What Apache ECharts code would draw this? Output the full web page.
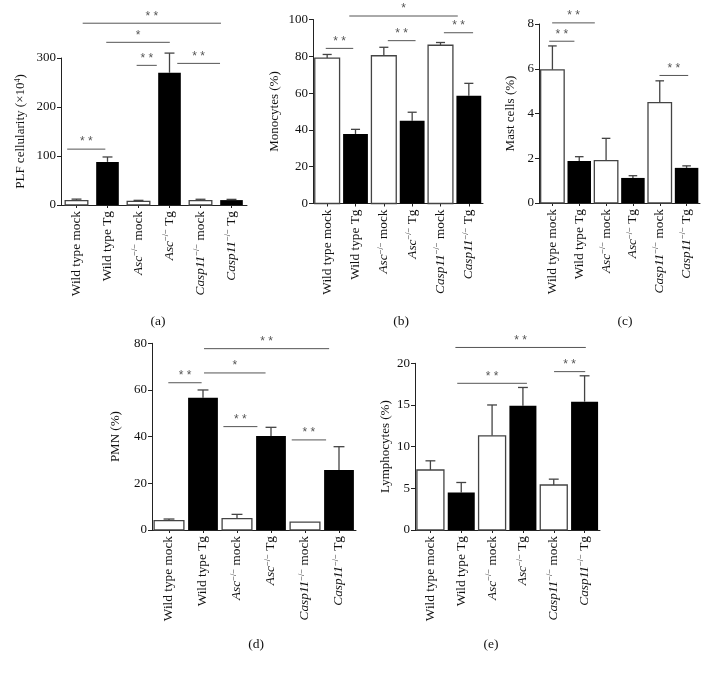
<!DOCTYPE html>
<html><head><meta charset="utf-8">
<script src="https://cdn.jsdelivr.net/npm/echarts@6/dist/echarts.min.js"></script>
<style>html,body{margin:0;padding:0;background:#fff}#c{width:709px;height:674px}</style>
</head><body><div id="c"></div>
<script>
// ---- data ----
const categories = [
  'Wild type mock',
  'Wild type Tg',
  '{i|Asc}{s|−/−} mock',
  '{i|Asc}{s|−/−} Tg',
  '{i|Casp11}{s|−/−} mock',
  '{i|Casp11}{s|−/−} Tg'
];
const barFill = [0, 1, 0, 1, 0, 1]; // 0 = open (mock), 1 = filled (Tg)

const plfMean = [9, 88, 7.5, 270, 9, 10];
const plfSem  = [3, 10, 2, 40, 2.7, 1.5];
const monoMean = [79, 37.8, 80.3, 45, 86, 58.6];
const monoSem  = [2, 2.5, 4.6, 4.6, 1.5, 6.7];
const mastMean = [5.95, 1.88, 1.89, 1.12, 4.49, 1.57];
const mastSem  = [1.07, 0.19, 1.0, 0.1, 0.97, 0.09];
const pmnMean = [4.0, 56.7, 4.9, 40.3, 3.4, 25.7];
const pmnSem  = [0.7, 3.3, 1.8, 3.7, 0, 10];
const lymMean = [7.2, 4.5, 11.3, 14.9, 5.4, 15.4];
const lymSem  = [1.1, 1.2, 3.7, 2.2, 0.7, 3.1];

// significance brackets: [from (category units), to (category units), level, stars]
const plfSig  = [[-0.3, 0.93, 114, '**'], [1.94, 2.59, 285, '**'], [3.25, 4.63, 289, '**'], [0.96, 3.01, 332, '*'], [0.2, 4.66, 371, '**']];
const monoSig = [[-0.05, 0.92, 84.3, '**'], [2.14, 3.12, 88.5, '**'], [4.12, 5.15, 92.8, '**'], [0.78, 4.61, 101.9, '*']];
const mastSig = [[-0.12, 0.82, 7.23, '**'], [-0.01, 1.58, 8.05, '**'], [3.99, 5.06, 5.70, '**']];
const pmnSig  = [[-0.02, 0.96, 63.1, '**'], [1.6, 2.6, 44.3, '**'], [3.61, 4.62, 38.6, '**'], [1.03, 2.84, 67.3, '*'], [1.03, 4.71, 77.7, '**']];
const lymSig  = [[0.87, 3.13, 17.6, '**'], [4.01, 5.02, 19.0, '**'], [0.81, 5.04, 21.9, '**']];

const yNames = ['PLF cellularity (×10{s|4})', 'Monocytes (%)', 'Mast cells (%)', 'PMN (%)', 'Lymphocytes (%)'];
const yMax = [300, 100, 8, 80, 20];
const yStep = [100, 20, 2, 20, 5];
const panelLetters = ['(a)', '(b)', '(c)', '(d)', '(e)'];

// ---- layout ----
const FONT = 'Liberation Serif';
const panels = [
  {mean: plfMean, sem: plfSem, sig: plfSig, grid: {left: 61, top: 58, width: 186, height: 147}, gap: 33, label: [153, 318]},
  {mean: monoMean, sem: monoSem, sig: monoSig, grid: {left: 313, top: 19.5, width: 170, height: 184}, gap: 32, label: [396, 318]},
  {mean: mastMean, sem: mastSem, sig: mastSig, grid: {left: 539, top: 24, width: 161, height: 179}, gap: 22, label: [620, 318]},
  {mean: pmnMean, sem: pmnSem, sig: pmnSig, grid: {left: 152, top: 343.3, width: 204, height: 186.7}, gap: 30, label: [251, 641]},
  {mean: lymMean, sem: lymSem, sig: lymSig, grid: {left: 415, top: 363.3, width: 185, height: 166.7}, gap: 23, label: [486, 641]}
];

const richCat = {
  i: {fontStyle: 'italic', fontFamily: FONT, fontSize: 13.3, color: '#111'},
  s: {fontSize: 8.5, fontFamily: FONT, verticalAlign: 'top', lineHeight: 16, color: '#111', padding: [0, 0, 6, 0]}
};

const grids = [], xAxes = [], yAxes = [], series = [], titles = [];
panels.forEach((p, k) => {
  grids.push(Object.assign({containLabel: false}, p.grid));
  xAxes.push({
    type: 'category', gridIndex: k, data: categories,
    axisLine: {lineStyle: {color: '#222', width: 1}},
    axisTick: {show: true, alignWithLabel: true, length: 3, inside: false, lineStyle: {color: '#222'}},
    axisLabel: {rotate: 90, margin: 6, fontFamily: FONT, fontSize: 13.3, color: '#111', rich: richCat, interval: 0}
  });
  yAxes.push({
    type: 'value', gridIndex: k, min: 0, max: yMax[k], interval: yStep[k],
    name: yNames[k], nameLocation: 'middle', nameGap: p.gap, nameRotate: 90,
    nameTextStyle: {fontFamily: FONT, fontSize: 13, color: '#111', rich: {s: {fontSize: 8, fontFamily: FONT, verticalAlign: 'top', padding: [0, 0, 6, 0], color: '#111'}}},
    axisLine: {show: true, lineStyle: {color: '#222', width: 1}},
    axisTick: {show: true, length: 4, lineStyle: {color: '#222'}},
    axisLabel: {fontFamily: FONT, fontSize: 13, color: '#111', margin: 5},
    splitLine: {show: false}
  });
  titles.push({text: panelLetters[k], left: p.label[0], top: p.label[1] - 9, textAlign: 'center',
    textStyle: {fontFamily: FONT, fontSize: 13.5, fontWeight: 'normal', color: '#111'}});

  const barData = p.mean.map((v, i) => [i, v, barFill[i]]);
  series.push({
    type: 'custom', xAxisIndex: k, yAxisIndex: k, data: barData, clip: false,
    renderItem: (params, api) => {
      const i = api.value(0), v = api.value(1), t = api.value(2);
      const band = api.size([1, 0])[0];
      const w = band * 0.73 * (k === 0 ? 1 : 1.2);
      const top = api.coord([i, v]), base = api.coord([i, 0]);
      return {type: 'rect', shape: {x: top[0] - w / 2, y: top[1], width: w, height: base[1] - top[1]},
        style: {fill: t ? '#000' : '#fff', stroke: t ? '#000' : '#444', lineWidth: t ? 0 : 1.3}};
    }
  });
  const errData = p.mean.map((v, i) => [i, v, v + p.sem[i]]);
  series.push({
    type: 'custom', xAxisIndex: k, yAxisIndex: k, data: errData, clip: false, z: 1,
    renderItem: (params, api) => {
      const i = api.value(0);
      if (api.value(2) <= api.value(1)) return null;
      const a = api.coord([i, api.value(1)]), b = api.coord([i, api.value(2)]);
      const band = api.size([1, 0])[0];
      const cw = band * 0.16;
      return {type: 'group', children: [
        {type: 'line', shape: {x1: a[0], y1: a[1], x2: b[0], y2: b[1]}, style: {stroke: '#444', lineWidth: 1.3}},
        {type: 'line', shape: {x1: b[0] - cw, y1: b[1], x2: b[0] + cw, y2: b[1]}, style: {stroke: '#444', lineWidth: 1.3}}
      ]};
    }
  });
  series.push({
    type: 'custom', xAxisIndex: k, yAxisIndex: k, data: p.sig.map(s => [s[0], s[1], s[2], s[3]]), clip: false,
    dimensions: ['from', 'to', 'level', {name: 'stars', type: 'ordinal'}],
    renderItem: (params, api) => {
      const band = api.size([1, 0])[0];
      const o = api.coord([0, api.value(2)]);
      const x1 = o[0] + api.value(0) * band, x2 = o[0] + api.value(1) * band;
      const stars = p.sig[params.dataIndex][3];
      return {type: 'group', children: [
        {type: 'line', shape: {x1: x1, y1: o[1], x2: x2, y2: o[1]}, style: {stroke: '#555', lineWidth: 1}},
        {type: 'text', x: (x1 + x2) / 2, y: o[1] - 1,
          style: {text: stars.split('').join(' '), fontFamily: 'Liberation Sans', fontSize: 12, fill: '#555', align: 'center', verticalAlign: 'bottom'}}
      ]};
    }
  });
});

const chart = echarts.init(document.getElementById('c'), null, {renderer: 'canvas'});
chart.setOption({
  animation: false,
  backgroundColor: '#fff',
  title: titles,
  grid: grids, xAxis: xAxes, yAxis: yAxes, series: series
});
</script></body></html>
